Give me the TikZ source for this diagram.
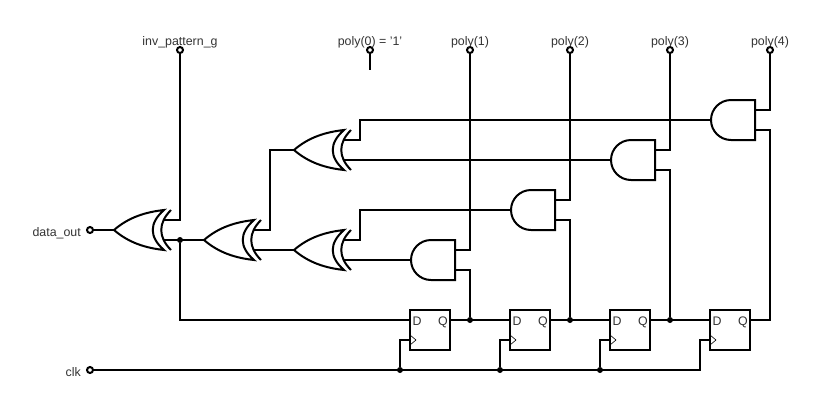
\documentclass[tikz,border=0pt]{standalone}
\usepackage{fontspec}
\setmainfont{Liberation Sans}
\tikzset{
  wire/.style={line width=2pt},
  gate/.style={line width=2pt,line join=miter},
  term/.style={circle,draw,fill=white,line width=2pt,inner sep=0pt,minimum size=6pt},
  jdot/.style={circle,fill=black,inner sep=0pt,minimum size=6pt},
  lbl/.style={text=black!80,inner sep=0pt,font=\fontsize{12.4}{14}\selectfont},
  ffbox/.style={draw,line width=2pt,outer sep=0pt,minimum width=40pt,minimum height=40pt,inner sep=0pt},
}
% xor gate: tip at #2,#3
\newcommand{\XorGate}[3]{
  \coordinate (#1o) at (#2,#3);
  \coordinate (#1a) at (#2+49,#3-10);
  \coordinate (#1b) at (#2+49,#3+10);
  \draw[gate] (#1o) .. controls (#2+15,#3-13) and (#2+32,#3-18) .. (#2+50,#3-20)
    .. controls (#2+35,#3-7) and (#2+35,#3+7) .. (#2+50,#3+20)
    .. controls (#2+32,#3+18) and (#2+15,#3+13) .. (#1o) -- cycle;
  \draw[gate] (#2+57,#3-20) .. controls (#2+44,#3-7) and (#2+44,#3+7) .. (#2+57,#3+20);
}
% and gate: left point at #2,#3
\newcommand{\AndGate}[3]{
  \coordinate (#1o) at (#2,#3);
  \coordinate (#1a) at (#2+44,#3-10);
  \coordinate (#1b) at (#2+44,#3+10);
  \draw[gate] (#2+20,#3-20) -- (#2+44,#3-20) -- (#2+44,#3+20) -- (#2+20,#3+20)
    arc (270:90:20pt) -- cycle;
}
% flip flop: top left corner at #2,#3
\newcommand{\FlipFlop}[3]{
  \node[ffbox,anchor=north west] (#1) at (#2,#3) {};
  \coordinate (#1d) at (#2,#3+10);
  \coordinate (#1q) at (#2+40,#3+10);
  \coordinate (#1c) at (#2,#3+30);
  \node[lbl] (#1dl) at (#2+7,#3+11) {D};
  \node[lbl] (#1ql) at (#2+33,#3+12) {Q};
  \draw[line width=0.6pt] (#2,#3+25) -- (#2+6,#3+30) -- (#2,#3+35);
}
\begin{document}
\begin{tikzpicture}[x=1pt,y=-1pt]
\useasboundingbox (0,0) rectangle (820,400);

\XorGate{x1}{114}{230}
\XorGate{x2}{204}{240}
\XorGate{x3}{294}{150}
\XorGate{x4}{294}{250}

\AndGate{a1}{411}{260}
\AndGate{a2}{511}{210}
\AndGate{a3}{611}{160}
\AndGate{a4}{711}{120}

\FlipFlop{ff1}{410}{310}
\FlipFlop{ff2}{510}{310}
\FlipFlop{ff3}{610}{310}
\FlipFlop{ff4}{710}{310}

\node[term] (dout) at (90,230) {};
\node[term] (clk) at (90,370) {};
\node[term] (inv) at (180,50) {};
\node[term] (p0) at (370,50) {};
\node[term] (p1) at (470,50) {};
\node[term] (p2) at (570,50) {};
\node[term] (p3) at (670,50) {};
\node[term] (p4) at (770,50) {};

\node[lbl,anchor=east] (ldout) at (81,233) {data\_out};
\node[lbl,anchor=east] (lclk) at (81,372) {clk};
\node[lbl] (linv) at (180,42) {inv\_pattern\_g};
\node[lbl] (lp0) at (370,42) {poly(0) = '1'};
\node[lbl] (lp1) at (470,42) {poly(1)};
\node[lbl] (lp2) at (570,42) {poly(2)};
\node[lbl] (lp3) at (670,42) {poly(3)};
\node[lbl] (lp4) at (770,42) {poly(4)};

\node[jdot] (d0) at (180,240) {};
\node[jdot] (d1) at (470,320) {};
\node[jdot] (d2) at (570,320) {};
\node[jdot] (d3) at (670,320) {};
\node[jdot] (c1) at (400,370) {};
\node[jdot] (c2) at (500,370) {};
\node[jdot] (c3) at (600,370) {};

\coordinate (p0end) at (370,70);
\coordinate (j2) at (270,150);
\coordinate (j3) at (360,120);
\coordinate (j4) at (360,210);
\coordinate (j5) at (770,320);
\coordinate (c4) at (700,370);

\draw[wire] (dout) -- (x1o);
\draw[wire] (x1a) -| (inv);
\draw[wire] (x1b) -- (x2o);
\draw[wire] (d0) |- (ff1d);
\draw[wire] (x2a) -| (j2) -- (x3o);
\draw[wire] (x2b) -- (x4o);
\draw[wire] (x3a) -| (j3) -- (a4o);
\draw[wire] (x3b) -- (a3o);
\draw[wire] (x4a) -| (j4) -- (a2o);
\draw[wire] (x4b) -- (a1o);

\draw[wire] (p0) -- (p0end);
\draw[wire] (a1a) -| (p1);
\draw[wire] (a2a) -| (p2);
\draw[wire] (a3a) -| (p3);
\draw[wire] (a4a) -| (p4);
\draw[wire] (a1b) -| (d1);
\draw[wire] (a2b) -| (d2);
\draw[wire] (a3b) -| (d3);
\draw[wire] (a4b) -| (j5) -- (ff4q);

\draw[wire] (ff1q) -- (ff2d);
\draw[wire] (ff2q) -- (ff3d);
\draw[wire] (ff3q) -- (ff4d);

\draw[wire] (clk) -- (c4) |- (ff4c);
\draw[wire] (c1) |- (ff1c);
\draw[wire] (c2) |- (ff2c);
\draw[wire] (c3) |- (ff3c);

\end{tikzpicture}
\end{document}
